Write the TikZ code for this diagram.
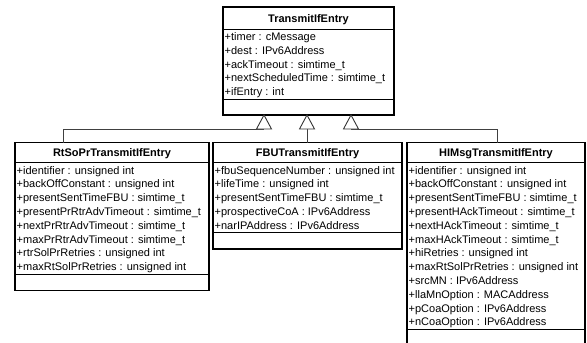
\documentclass[tikz,border=0pt]{standalone}
\usepackage{fontspec}
\setmainfont{Liberation Sans}
\begin{document}
\begin{tikzpicture}[x=1pt,y=-1pt,
  box/.style={draw=black,line width=1.1pt,inner sep=0pt,outer sep=0pt,anchor=north west,fill=white},
  sep/.style={draw=black,line width=1pt},
  ttl/.style={font=\fontsize{11}{13.8}\selectfont\bfseries,anchor=base,inner sep=0pt},
  attr/.style={font=\fontsize{11}{13.8}\selectfont,anchor=base west,inner sep=0pt},
  conn/.style={draw=black!75,line width=0.9pt},
  tri/.style={draw=black!80,line width=0.9pt,fill=white,line join=miter}]
\useasboundingbox (0,0) rectangle (587,343);

% ---- TransmitIfEntry
\node[box,minimum width=171,minimum height=108] (tie) at (223,7) {};
\draw[sep] (tie.west |- 0,29) -- (tie.east |- 0,29);
\draw[sep] (tie.west |- 0,99.3) -- (tie.east |- 0,99.3);
\node[ttl] (tie-t) at (308.5,22) {TransmitIfEntry};
\foreach \a [count=\i] in {+timer : cMessage,+dest : IPv6Address,+ackTimeout : simtime\_t,+nextScheduledTime : simtime\_t,+ifEntry : int}
  \node[attr] (tie-\i) at (224.5,{40.5+(\i-1)*13.8}) {\a};

% ---- RtSoPrTransmitIfEntry
\node[box,minimum width=194,minimum height=148] (rt) at (15,142.5) {};
\draw[sep] (rt.west |- 0,162.5) -- (rt.east |- 0,162.5);
\draw[sep] (rt.west |- 0,274.2) -- (rt.east |- 0,274.2);
\node[ttl] (rt-t) at (112,156.5) {RtSoPrTransmitIfEntry};
\foreach \a [count=\i] in {+identifier : unsigned int,+backOffConstant : unsigned int,+presentSentTimeFBU : simtime\_t,+presentPrRtrAdvTimeout : simtime\_t,+nextPrRtrAdvTimeout : simtime\_t,+maxPrRtrAdvTimeout : simtime\_t,+rtrSolPrRetries : unsigned int,+maxRtSolPrRetries : unsigned int}
  \node[attr] (rt-\i) at (16.5,{174+(\i-1)*13.8}) {\a};

% ---- FBUTransmitIfEntry
\node[box,minimum width=189,minimum height=106.5] (fbu) at (213,142.5) {};
\draw[sep] (fbu.west |- 0,162.5) -- (fbu.east |- 0,162.5);
\draw[sep] (fbu.west |- 0,232.8) -- (fbu.east |- 0,232.8);
\node[ttl] (fbu-t) at (307.5,156.5) {FBUTransmitIfEntry};
\foreach \a [count=\i] in {+fbuSequenceNumber : unsigned int,+lifeTime : unsigned int,+presentSentTimeFBU : simtime\_t,+prospectiveCoA : IPv6Address,+narIPAddress : IPv6Address}
  \node[attr] (fbu-\i) at (214.5,{174+(\i-1)*13.8}) {\a};

% ---- HIMsgTransmitIfEntry
\node[box,minimum width=178,minimum height=203] (him) at (407,142.5) {};
\draw[sep] (him.west |- 0,162.5) -- (him.east |- 0,162.5);
\draw[sep] (him.west |- 0,329.4) -- (him.east |- 0,329.4);
\node[ttl] (him-t) at (496,156.5) {HIMsgTransmitIfEntry};
\foreach \a [count=\i] in {+identifier : unsigned int,+backOffConstant : unsigned int,+presentSentTimeFBU : simtime\_t,+presentHAckTimeout : simtime\_t,+nextHAckTimeout : simtime\_t,+maxHAckTimeout : simtime\_t,+hiRetries : unsigned int,+maxRtSolPrRetries : unsigned int,+srcMN : IPv6Address,+llaMnOption : MACAddress,+pCoaOption : IPv6Address,+nCoaOption : IPv6Address}
  \node[attr] (him-\i) at (408.5,{174+(\i-1)*13.8}) {\a};

% ---- generalisation connectors
\coordinate (b1) at (264,129);
\coordinate (b2) at (307,129);
\coordinate (b3) at (351,129);
\coordinate (rtp) at (63,142.5);
\coordinate (fbup) at (307,142.5);
\coordinate (himp) at (497,142.5);
\draw[conn] (rtp) |- (b1);
\draw[conn] (fbup) -- (b2);
\draw[conn] (himp) |- (b3);
\foreach \b in {b1,b2,b3}
  \draw[tri] (\b) ++(-7.5,0) -- ++(7.5,-14) -- ++(7.5,14) -- cycle;
\end{tikzpicture}
\end{document}
